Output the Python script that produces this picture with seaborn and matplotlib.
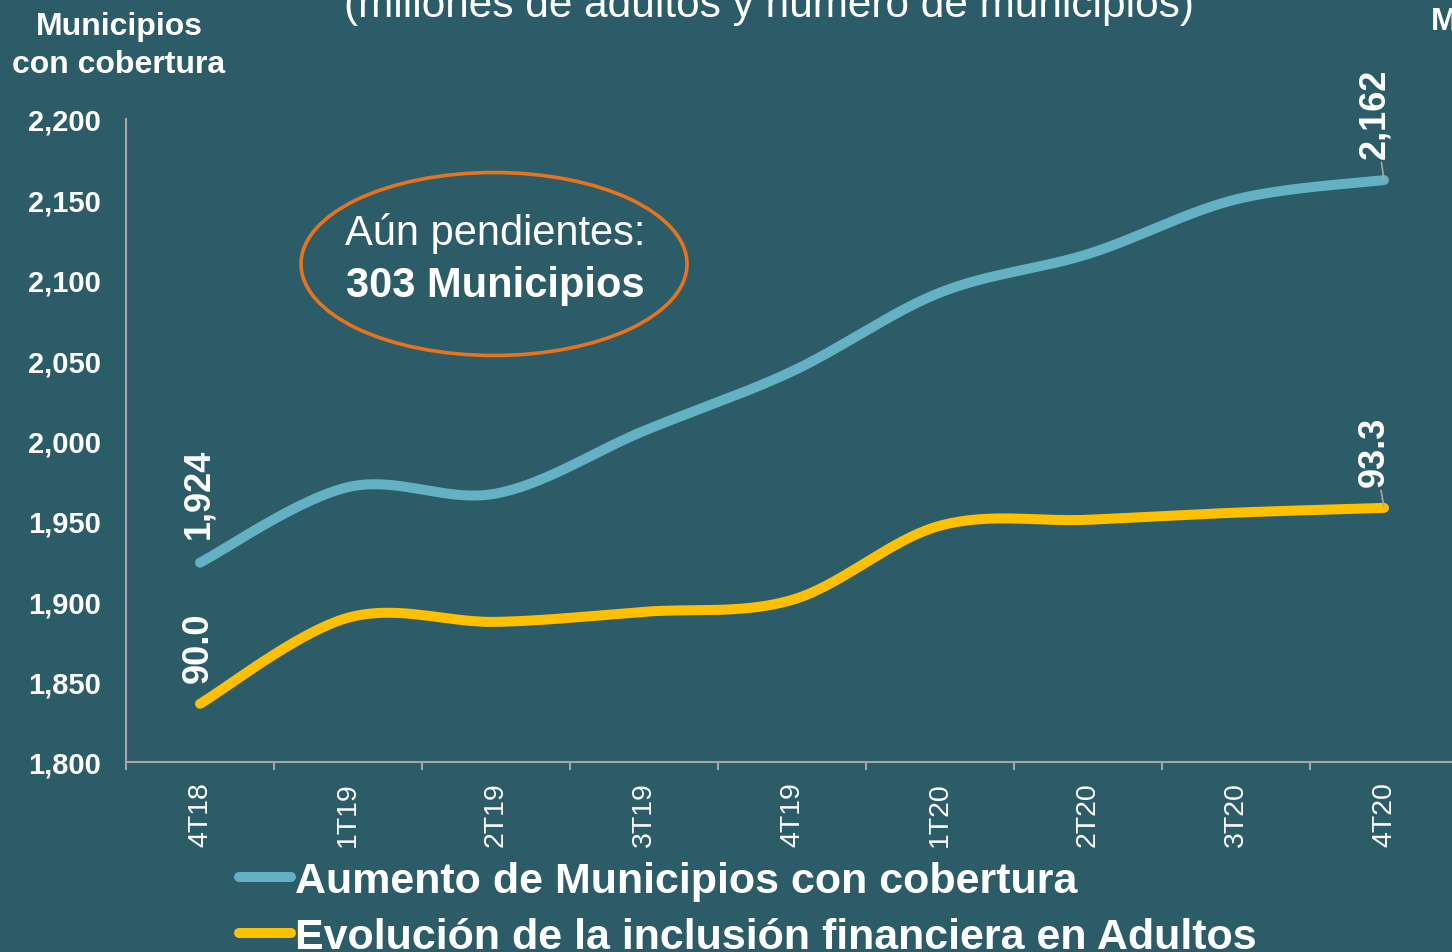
import numpy as np
import matplotlib
matplotlib.use("Agg")
from matplotlib import pyplot as plt
from matplotlib.patches import Ellipse
from matplotlib.lines import Line2D
import seaborn as sns

# data
QUARTERS = ["4T18", "1T19", "2T19", "3T19", "4T19", "1T20", "2T20", "3T20", "4T20"]
MUNICIPIOS = [1924, 1971, 1967, 2006, 2043, 2092, 2116, 2150, 2162]
ADULTOS = [90.0, 91.45, 91.38, 91.55, 91.75, 93.0, 93.1, 93.22, 93.3]
Y_TICKS = [1800, 1850, 1900, 1950, 2000, 2050, 2100, 2150, 2200]

LEGEND_LABELS = [
    "Aumento de Municipios con cobertura",
    "Evolución de la inclusión financiera en Adultos",
]

BG = "#2B5C68"
BLUE = "#63B1C2"
YELLOW = "#FFC000"
ORANGE = "#E8731F"
SPINE = "#A6A6A6"


def smooth_curve(y, n=40):
    """Excel-like smoothed line (Catmull-Rom bezier) through the points."""
    pts = np.column_stack([np.arange(len(y), dtype=float), np.asarray(y, float)])
    out = []
    t = np.linspace(0, 1, n)[:, None]
    for i in range(len(pts) - 1):
        p0 = pts[i - 1] if i > 0 else pts[i]
        p1, p2 = pts[i], pts[i + 1]
        p3 = pts[i + 2] if i + 2 < len(pts) else pts[i + 1]
        c1 = p1 + (p2 - p0) / 6
        c2 = p2 - (p3 - p1) / 6
        seg = ((1 - t) ** 3) * p1 + 3 * ((1 - t) ** 2) * t * c1 \
            + 3 * (1 - t) * t ** 2 * c2 + t ** 3 * p2
        out.append(seg if i == 0 else seg[1:])
    seg = np.vstack(out)
    return seg[:, 0], seg[:, 1]


sns.set_theme(style="ticks")
plt.rcParams["font.family"] = ["Liberation Sans", "DejaVu Sans"]

fig = plt.figure(figsize=(14.52, 9.53), dpi=100)
fig.patch.set_facecolor(BG)
ax = fig.add_axes([126 / 1452, 1 - 763 / 953, 1332 / 1452, 643 / 953])
ax.set_facecolor(BG)

mx, my = smooth_curve(MUNICIPIOS)
sns.lineplot(x=mx, y=my, ax=ax, sort=False, estimator=None,
             color=BLUE, lw=7.2, solid_capstyle="round")

ax2 = ax.twinx()
ax2.set_ylim(89.02, 99.85)
ax2.set_position(ax.get_position())
ax_x, ax_y = smooth_curve(ADULTOS)
sns.lineplot(x=ax_x, y=ax_y, ax=ax2, sort=False, estimator=None,
             color=YELLOW, lw=7.2, solid_capstyle="round")
ax2.set_axis_off()

ax.set_xlim(-0.5, 8.5)
ax.set_ylim(1800, 2200)
ax.set_xticks(range(len(QUARTERS)))
ax.set_xticklabels(QUARTERS, rotation=90, fontsize=20.5, color="white")
ax.set_xticks(np.arange(-0.5, len(QUARTERS), 1.0), minor=True)
ax.tick_params(axis="x", which="major", length=0, pad=14)
ax.tick_params(axis="x", which="minor", length=6, width=1.5, color=SPINE,
               direction="out")
ax.set_yticks(Y_TICKS)
ax.set_yticklabels([f"{v:,}" for v in Y_TICKS], fontsize=21,
                   fontweight="bold", color="white")
ax.tick_params(axis="y", length=0, pad=18)
ax.set_xlabel("")
ax.set_ylabel("")
for side in ["top", "right"]:
    ax.spines[side].set_visible(False)
for side in ["left", "bottom"]:
    ax.spines[side].set_color(SPINE)
    ax.spines[side].set_linewidth(1.5)

# data labels at both ends
label_kw = dict(textcoords="offset points", rotation=90, ha="center",
                va="bottom", fontsize=26, fontweight="bold", color="white")
ax.annotate(f"{MUNICIPIOS[0]:,}", (0, MUNICIPIOS[0]), xytext=(-1, 18), **label_kw)
ax.annotate(f"{MUNICIPIOS[-1]:,}", (8, MUNICIPIOS[-1]), xytext=(-7, 16),
            arrowprops=dict(arrowstyle="-", color=SPINE, lw=1.2,
                            shrinkA=1, shrinkB=1), **label_kw)
ax2.annotate(f"{ADULTOS[0]:.1f}", (0, ADULTOS[0]), xytext=(-1, 16), **label_kw)
ax2.annotate(f"{ADULTOS[-1]:.1f}", (8, ADULTOS[-1]), xytext=(-7, 16),
             arrowprops=dict(arrowstyle="-", color=SPINE, lw=1.2,
                             shrinkA=1, shrinkB=1), **label_kw)

# titles (cut by the slide edge, as in the original)
fig.text(769 / 1452, 1 - 17 / 953, "(millones de adultos y número de municipios)",
         ha="center", va="baseline", fontsize=30.5, color="white")
fig.text(119 / 1452, 1 - 35 / 953, "Municipios", ha="center", va="baseline",
         fontsize=23, fontweight="bold", color="white")
fig.text(119 / 1452, 1 - 73 / 953, "con cobertura", ha="center", va="baseline",
         fontsize=23, fontweight="bold", color="white")
fig.text(1431 / 1452, 1 - 30 / 953, "Millones", ha="left", va="baseline",
         fontsize=23, fontweight="bold", color="white")

# callout
fig.patches.append(Ellipse((494 / 1452, 1 - 265 / 953), 386 / 1452, 183 / 953,
                           transform=fig.transFigure, fill=False,
                           edgecolor=ORANGE, lw=2.6))
fig.text(495 / 1452, 1 - 245 / 953, "Aún pendientes:", ha="center",
         va="baseline", fontsize=30, color="white")
fig.text(495 / 1452, 1 - 297 / 953, "303 Municipios", ha="center",
         va="baseline", fontsize=30, fontweight="bold", color="white")

# legend
handles = [Line2D([], [], color=c, lw=7.2, solid_capstyle="round")
           for c in (BLUE, YELLOW)]
fig.legend(handles, LEGEND_LABELS, loc="upper left",
           bbox_to_anchor=(239 / 1452, 1 - 862 / 953), frameon=False,
           handlelength=1.21, handletextpad=0.1, labelspacing=0.38,
           borderpad=0, borderaxespad=0,
           prop=dict(size=31, weight="bold"), labelcolor="white")

fig.savefig("out.png", dpi=100, facecolor=BG)
